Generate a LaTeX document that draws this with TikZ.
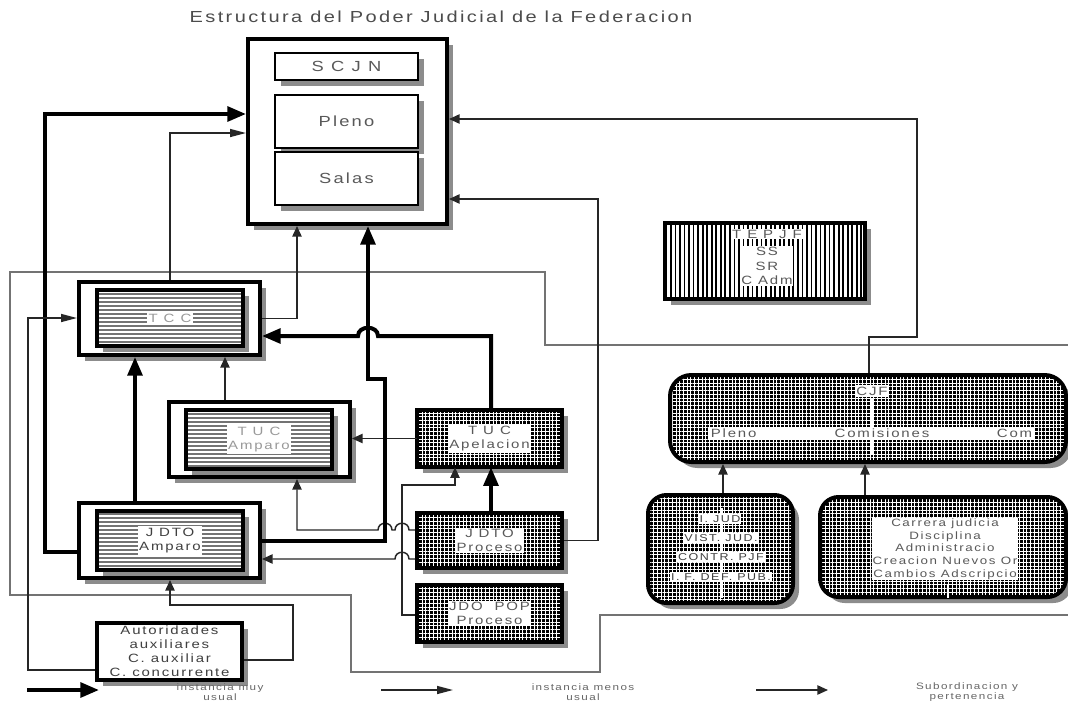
\documentclass[tikz,border=0pt]{standalone}
\usepackage{fontspec}
\setmainfont{Liberation Sans}[FakeStretch=1.25,LetterSpace=15]
\usetikzlibrary{arrows.meta,patterns.meta}

\begin{document}
\begin{tikzpicture}[x=0.75pt,y=-0.75pt,
    shd/.style={preaction={draw=none,fill=black!45,transform canvas={xshift=4.5pt,yshift=-4.5pt}}},
    bigbox/.style={draw,line width=3pt,fill=white,inner sep=0pt,shd},
    whitebox/.style={draw,line width=2.2pt,fill=white,inner sep=0pt,shd,text=black!65,
      font=\fontsize{11}{13}\selectfont},
    stripebox/.style={draw,line width=2.4pt,inner sep=0pt,shd,
      preaction={fill=black!55},pattern={Lines[angle=0,distance=3pt,line width=0.9pt]},pattern color=white},
    gridbox/.style={draw,line width=3pt,inner sep=0pt,shd,
      preaction={fill=black},pattern={Hatch[angle=0,distance=2.8pt,line width=0.35pt]},pattern color=white},
    barbox/.style={draw,line width=3pt,inner sep=0pt,shd,
      preaction={fill=white},pattern={Lines[angle=90,distance=3.4pt,line width=1.3pt]},pattern color=black},
    tag/.style={fill=white,inner sep=1pt,align=center,text=black!65,font=\small},
    tinytag/.style={fill=white,inner sep=0.8pt,text=black!75,font=\fontsize{7.5}{8}\selectfont},
    legtext/.style={align=center,text=black!60,font=\scriptsize,inner sep=0pt},
    usual/.style={line width=3pt,-{Triangle[length=14pt,width=11pt]}},
    lessusual/.style={line width=1.1pt,black!85,-{Triangle[length=12pt,width=6pt]}},
    subord/.style={line width=1.1pt,black!85,-{Triangle[length=8pt,width=7pt]}},
    frameline/.style={line width=0.9pt,black!55}]

  \fill[white] (0,0) rectangle (1068,704);
  \useasboundingbox (0,0) rectangle (1068,704);

  \node[text=black!70,font=\large] (title) at (441,17) {Estructura del Poder Judicial de la Federacion};

  % large frame line
  \draw[frameline] (1068,345) -| (545,272) -| (10,595) -| (351,672) -| (600,615) -- (1068,615);

  % SCJN
  \node[bigbox,minimum width=149.25pt,minimum height=138.75pt] (scjn) at (347.5,131.5) {};
  \node[whitebox,minimum width=107.25pt,minimum height=20.25pt] (scjnlbl) at (346.5,66.5) {S C J N};
  \node[whitebox,minimum width=107.25pt,minimum height=39.75pt] (pleno) at (346.5,121.5) {Pleno};
  \node[whitebox,minimum width=107.25pt,minimum height=39.75pt] (salas) at (346.5,178.5) {Salas};

  % tribunales y juzgados de amparo
  \node[bigbox,minimum width=135.75pt,minimum height=54.75pt] (tcco) at (169.5,318.5) {};
  \node[stripebox,minimum width=109.5pt,minimum height=42pt] (tcc) at (170,318) {};
  \node[tag,text=black!40] at (tcc) {T C C};

  \node[bigbox,minimum width=135.75pt,minimum height=56.25pt] (tucm) at (259.5,439.5) {};
  \node[stripebox,minimum width=109.5pt,minimum height=44.25pt] (tucmi) at (259,439.5) {};
  \node[tag,text=black!40] at (tucmi) {T U C\\Amparo};

  \node[bigbox,minimum width=135.75pt,minimum height=56.25pt] (jdtoa) at (169.5,540.5) {};
  \node[stripebox,minimum width=109.5pt,minimum height=44.25pt] (jdtoai) at (170,540.5) {};
  \node[tag,text=black!75] at (jdtoai) {J DTO\\Amparo};

  % procesos
  \node[gridbox,minimum width=108.75pt,minimum height=42.75pt] (tuca) at (489.5,438.5) {};
  \node[tag] at (tuca) {T U C\\Apelacion};
  \node[gridbox,minimum width=108.75pt,minimum height=41.25pt] (jdtop) at (489.5,540.5) {};
  \node[tag] at (jdtop) {J DTO\\Proceso};
  \node[gridbox,minimum width=108.75pt,minimum height=42.75pt] (jdopop) at (489.5,613.5) {};
  \node[tag] at (jdopop) {JDO\ \ POP\\Proceso};

  \node[bigbox,minimum width=108.75pt,minimum height=42.75pt,align=center,
        font=\fontsize{9}{10.5}\selectfont,text=black!75,inner sep=0pt] (auto) at (169.5,651.5)
        {Autoridades\\auxiliares\\C. auxiliar\\C. concurrente};

  % TEPJF
  \node[barbox,minimum width=150pt,minimum height=57pt] (tepjf) at (765,261) {};
  \node[tag,inner sep=0.5pt] at (767,234) {T E P J F};
  \node[tag,inner sep=0.5pt] at (767,266) {SS\\SR\\C Adm};

  % CJF
  \node[gridbox,rounded corners=16pt,minimum width=297pt,minimum height=65.25pt] (cjf) at (868,418.5) {};
  \draw[white,line width=1pt] (872,398) -- (872,455);
  \node[tag] at (872,391) {CJF};
  \node[fill=white,inner sep=0pt,minimum width=245pt,minimum height=10pt] (cjfband) at (871.5,433.5) {};
  \node[tag,anchor=west,fill=none,inner sep=2pt] at (cjfband.west) {Pleno};
  \node[tag,fill=none] at (882,433.5) {Comisiones};
  \node[tag,anchor=east,fill=none,inner sep=2pt] at (cjfband.east) {Com};

  \node[gridbox,rounded corners=14pt,minimum width=108.75pt,minimum height=81pt] (subl) at (720.5,549) {};
  \draw[white,line width=1pt] (722,508) -- (722,598);
  \node[tinytag] at (720,519) {I. JUD};
  \node[tinytag] at (721,538) {VIST. JUD.};
  \node[tinytag] at (721,557) {CONTR. PJF};
  \node[tinytag] at (721,577) {I. F. DEF. PUB.};

  \node[gridbox,rounded corners=14pt,minimum width=184.5pt,minimum height=75pt] (subr) at (943,547) {};
  \draw[white,line width=1pt] (948,585) -- (948,598);
  \node[tag,align=center,inner sep=0.5pt,font=\footnotesize] at (945,549)
    {Carrera judicia\\Disciplina\\Administracio\\Creacion Nuevos Or\\Cambios Adscripcio};

  % instancias
  \draw[usual] (jdtoa.west |- 0,552) -| (45,114) -- (scjn.west |- 0,114);
  \draw[lessusual] (tcco.north -| 170,0) |- (scjn.west |- 0,133);
  \draw[subord] (tcco.east) -| (scjn.south -| 297,0);
  \draw[usual] (tuca.north -| 491,0) -- (491,336) -- (378,336)
     .. controls (378,325) and (358,325) .. (358,336) -- (tcco.east |- 0,336);
  \draw[usual] (jdtoa.north -| 135,0) -- (tcco.south -| 135,0);
  \draw[subord] (tucm.north -| 225,0) -- (tcco.south -| 225,0);
  \draw[subord] (tuca.west) -- (tucm.east |- tuca.west);
  \draw[usual] (jdtop.north -| 491,0) -- (tuca.south -| 491,0);
  \draw[subord] (jdopop.west |- 0,615) -| (402,485) -| (tuca.south -| 455,0);
  \draw[subord] (jdtop.west |- 0,530) -- (409,530)
     .. controls (409,521) and (395,521) .. (395,530) -- (392,530)
     .. controls (392,521) and (378,521) .. (378,530) -| (tucm.south -| 297,0);
  \draw[subord] (jdtop.west |- 0,559) -- (409,559)
     .. controls (409,550) and (395,550) .. (395,559) -- (jdtoa.east |- 0,559);
  \draw[usual] (jdtoa.east) -| (385,379) -| (scjn.south -| 368,0);
  \draw[subord] (auto.east |- 0,660) -| (293,605) -| (jdtoa.south -| 170,0);
  \draw[lessusual] (auto.west |- 0,670) -| (28,318) -- (tcco.west |- 0,318);
  \draw[subord] (jdtop.east) -| (598,199) -- (scjn.east |- 0,199);
  \draw[subord] (cjf.north -| 869,0) |- (917,337) |- (scjn.east |- 0,119);
  \draw[subord] (subl.north -| 723,0) -- (cjf.south -| 723,0);
  \draw[subord] (subr.north -| 865,0) -- (cjf.south -| 865,0);

  % legend
  \coordinate (ua) at (27,690);  \coordinate (ub) at (99,690);
  \coordinate (la) at (381,690); \coordinate (lb) at (453,690);
  \coordinate (sa) at (756,690); \coordinate (sb) at (828,690);
  \draw[usual] (ua) -- (ub);
  \draw[lessusual] (la) -- (lb);
  \draw[subord] (sa) -- (sb);
  \node[legtext] (ulbl) at (220,692) {instancia muy\\usual};
  \node[legtext] (llbl) at (583,692) {instancia menos\\usual};
  \node[legtext] (slbl) at (967,692) {Subordinacion y\\pertenencia};
\end{tikzpicture}
\end{document}
